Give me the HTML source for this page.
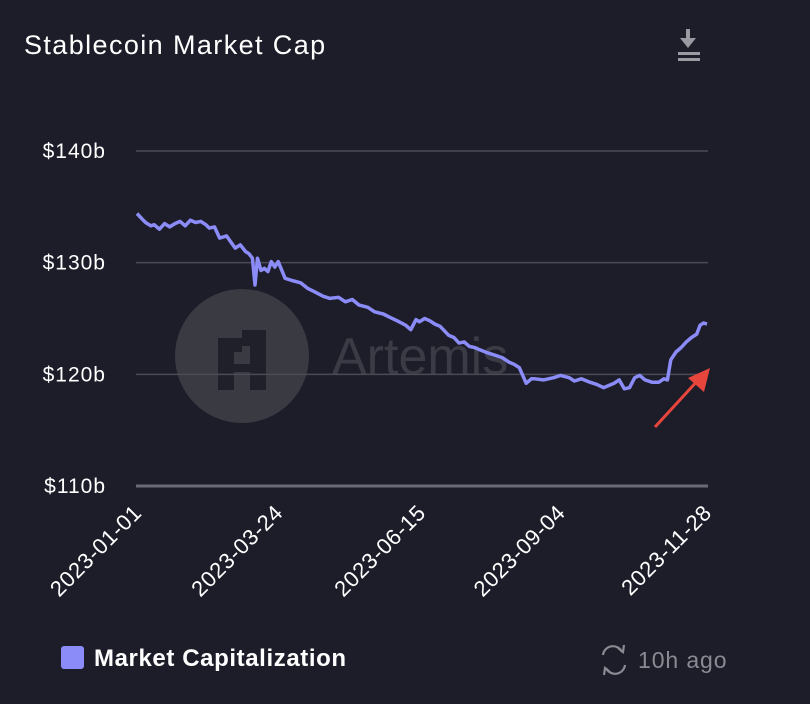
<!DOCTYPE html>
<html><head><meta charset="utf-8"><style>
html,body{margin:0;padding:0;background:#1c1d29;width:810px;height:704px;overflow:hidden;font-family:"Liberation Sans",sans-serif}
</style></head><body>
<svg width="810" height="704" viewBox="0 0 810 704" xmlns="http://www.w3.org/2000/svg">
<rect width="810" height="704" fill="#1c1d29"/>
<text x="24" y="54" fill="#ffffff" font-size="27" letter-spacing="1.4">Stablecoin Market Cap</text>
<g fill="#9a9aa2">
<rect x="686" y="29" width="4" height="16"/><path d="M680 38 L696 38 L688 48 Z"/><rect x="678" y="52" width="22" height="3"/><rect x="678" y="58" width="22" height="3"/>
</g>
<g>
<circle cx="242" cy="356" r="67" fill="#3a3a42"/>
<path d="M218 338 L242 338 L242 330 L266 330 L266 390 L250 390 L250 372 L234 372 L234 390 L218 390 Z M234 352 L234 364 L250 364 L250 346 L242 346 L242 352 Z" fill="#1f2029" fill-rule="evenodd"/>
<text x="332" y="374" fill="#3a3b44" font-size="52">Artemis</text>
</g>
<g id="grid"></g>
<g id="yl"></g>
<g id="xl"></g>
<path id="line" fill="none" stroke="#8c8cf8" stroke-width="3.5" stroke-linejoin="round"/>
<g>
<line x1="655" y1="427" x2="700" y2="378" stroke="#e8453c" stroke-width="3"/>
<path d="M710 368 L704 392 L688 378 Z" fill="#e8453c"/>
</g>
<rect x="61" y="646" width="23" height="23" rx="3" fill="#8c8cf8"/>
<text x="94" y="666" fill="#ffffff" font-size="24" letter-spacing="0.6" font-weight="bold">Market Capitalization</text>
<g fill="none" stroke="#8a8a92" stroke-width="2.2">
<path d="M603 655 A10 10 0 0 1 622 652"/><path d="M625 665 A10 10 0 0 1 606 668"/>
<path d="M618 648 L623 652 L624 645" /><path d="M610 672 L605 668 L604 675"/>
</g>
<text x="638" y="668" fill="#8a8a92" font-size="23" letter-spacing="0.9">10h ago</text>
<script>
const yTicks=[110,120,130,140];
const yTickLabels=["$110b","$120b","$130b","$140b"];
const xTickDays=[0,82,165,246,331];
const xTickLabels=["2023-01-01","2023-03-24","2023-06-15","2023-09-04","2023-11-28"];
const days=[0,3,5,8,10,13,16,19,22,25,28,31,34,37,40,42,45,48,52,57,60,63,65,67,68.5,70,72,74,76,78,80,82,86,90,95,99,103,108,112,117,121,125,129,134,138,143,147,151,156,159,162,164,167,170,173,176,181,184,187,190,193,196,199,204,208,212,216,219,222,226,229,231,236,242,246,251,254,258,263,267,271,274,277,280,283,286,289,292,295,299,303,306,308,310,313,316,319,322,325,327,329,331];
const values=[134.4,133.9,133.6,133.3,133.4,133.0,133.5,133.2,133.5,133.7,133.3,133.8,133.6,133.7,133.4,133.1,133.2,132.2,132.4,131.3,131.6,131.0,130.8,130.4,128.0,130.4,129.3,129.5,129.2,130.1,129.6,130.1,128.6,128.4,128.2,127.7,127.4,127.0,126.8,126.9,126.5,126.7,126.2,126.0,125.6,125.4,125.1,124.8,124.4,124.0,124.9,124.7,125.0,124.8,124.5,124.3,123.5,123.3,122.8,122.9,122.5,122.4,122.2,121.9,121.7,121.5,121.1,120.9,120.6,119.2,119.6,119.6,119.5,119.7,119.9,119.7,119.4,119.6,119.3,119.1,118.8,119.0,119.2,119.5,118.7,118.8,119.7,119.9,119.5,119.3,119.3,119.6,119.5,121.3,122.0,122.4,122.9,123.3,123.6,124.4,124.6,124.5];
const ns="http://www.w3.org/2000/svg";
const X=d=>137+d*(570/331);
const Y=v=>486-(v-110)*(335/30);
const grid=document.getElementById('grid'),yl=document.getElementById('yl'),xl=document.getElementById('xl');
yTicks.forEach((t,i)=>{
 const l=document.createElementNS(ns,'line');
 
 
 l.setAttribute('x1',136);l.setAttribute('x2',708);l.setAttribute('y1',Y(t));l.setAttribute('y2',Y(t));
 l.setAttribute('stroke',t===110?'#6a6a74':'#4a4b55');l.setAttribute('stroke-width',t===110?3:1.5);
 grid.appendChild(l);
 const tx=document.createElementNS(ns,'text');
 
 
 tx.setAttribute('x',106);tx.setAttribute('y',Y(t)+7);tx.setAttribute('text-anchor','end');
 tx.setAttribute('letter-spacing','1');
 tx.setAttribute('fill','#ffffff');tx.setAttribute('font-size','21');tx.textContent=yTickLabels[i];
 yl.appendChild(tx);
});
xTickDays.forEach((d,i)=>{
 const tx=document.createElementNS(ns,'text');
 
 
 const x=X(d)+6,y=514;
 tx.setAttribute('transform','translate('+x+','+y+') rotate(-45)');
 tx.setAttribute('text-anchor','end');tx.setAttribute('fill','#ffffff');tx.setAttribute('font-size','22');
 tx.setAttribute('letter-spacing','0.6');
 tx.textContent=xTickLabels[i];xl.appendChild(tx);
});
document.getElementById('line').setAttribute('d',days.map((d,i)=>(i?'L':'M')+X(d).toFixed(1)+' '+Y(values[i]).toFixed(1)).join(' '));
</script>
</svg>
</body></html>
